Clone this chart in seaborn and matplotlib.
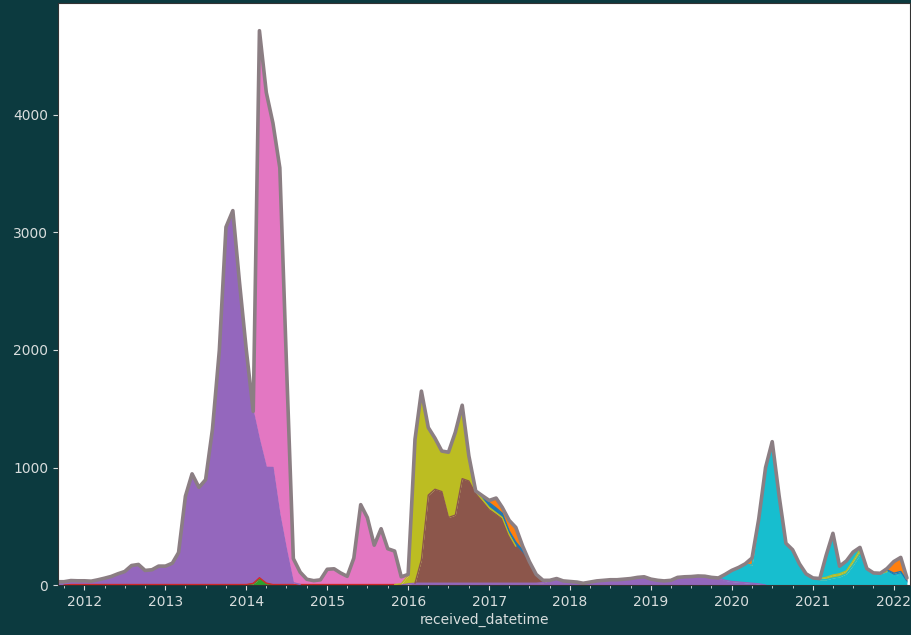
import matplotlib
matplotlib.use("Agg")
import matplotlib.pyplot as plt
import matplotlib.dates as mdates
import numpy as np
import pandas as pd
import seaborn as sns

# Monthly complaint counts by category, Sep 2011 - Mar 2022
months = pd.date_range("2011-09-01", "2022-03-01", freq="MS")

green_start = "2014-02"
green_vals = [10, 50, 12]

red_start = "2011-11"
red_vals = [4, 4, 4, 4, 4, 4, 4, 4, 4, 4, 4, 4, 4, 4, 4, 4, 4, 4, 4, 4,
            4, 4, 4, 4, 4, 4, 4, 4, 12, 4, 4, 4, 4, 4, 4, 4, 4, 4, 4, 4,
            4, 4, 4, 4, 4, 4, 4, 4, 4]

purple_a_start = "2011-09"
purple_a_vals = [28, 28, 34, 32, 32, 29, 40, 54, 69, 92,
                 111, 162, 171, 120, 126, 157, 157, 182, 272, 752,
                 942, 827, 892, 1322, 1992, 3042, 3182, 2572, 1992, 1464,
                 1175, 985, 996, 596, 296, 16]
purple_b_start = "2016-01"
purple_b_vals = [10, 15, 15, 15, 15, 15, 15, 15, 15, 15, 15,
                 15, 15, 15, 15, 15, 15, 15, 15, 15, 20,
                 40, 55, 35, 30, 25, 15, 25, 35, 40, 45,
                 45, 50, 55, 65, 70, 50, 40, 35, 40, 65,
                 70, 72, 77, 75, 65, 60, 40, 30, 25, 20, 15, 10]

brown_start = "2016-03"
brown_vals = [200, 750, 800, 780, 560, 580, 890, 870, 760, 695,
              625, 585, 545, 405, 315, 255, 170, 75, 20]

cyan_low_start = "2019-12"
cyan_low_vals = [50, 95, 125, 160, 155, 525, 1000, 1220, 760, 355,
                 300, 180, 95, 60, 45, 45, 60, 70, 95, 170,
                 260, 130, 98, 95, 115, 80, 95, 25]

olive_a_start = "2015-12"
olive_a_vals = [10, 70, 1225, 1435, 575, 435, 345, 555, 705, 625,
                215, 25, 20, 20, 15, 15, 10]
olive_b_start = "2021-02"
olive_b_vals = [10, 20, 25, 25, 25, 35, 40, 10, 5, 5]

cyan_high_start = "2021-03"
cyan_high_vals = [185, 355, 65, 85, 75, 20]

blue_a_start = "2016-12"
blue_a_vals = [30, 40, 40, 35, 30, 35, 25, 15]
blue_b_start = "2021-12"
blue_b_vals = [15, 20, 20, 10]

orange_a_start = "2017-01"
orange_a_vals = [20, 85, 50, 90, 125, 35]
orange_b_start = "2020-04"
orange_b_vals = [60, 25]
orange_c_start = "2021-12"
orange_c_vals = [10, 100, 120, 25]

pink_start = "2014-02"
pink_vals = [0, 3480, 3190, 2930, 2950, 1580, 205, 105, 45, 33,
             40, 130, 134, 100, 70, 225, 680, 570, 335, 475,
             305, 285, 60, 10]


def build(*segments):
    s = pd.Series(0.0, index=months)
    for start, vals in segments:
        idx = pd.date_range(start + "-01", periods=len(vals), freq="MS")
        s.loc[idx] = vals
    return s


pal = sns.color_palette("tab10")
layers = [
    ("green", build((green_start, green_vals)), pal[2]),
    ("red", build((red_start, red_vals)), pal[3]),
    ("purple", build((purple_a_start, purple_a_vals), (purple_b_start, purple_b_vals)), pal[4]),
    ("brown", build((brown_start, brown_vals)), pal[5]),
    ("cyan_low", build((cyan_low_start, cyan_low_vals)), pal[9]),
    ("olive", build((olive_a_start, olive_a_vals), (olive_b_start, olive_b_vals)), pal[8]),
    ("cyan_high", build((cyan_high_start, cyan_high_vals)), pal[9]),
    ("blue", build((blue_a_start, blue_a_vals), (blue_b_start, blue_b_vals)), pal[0]),
    ("orange", build((orange_a_start, orange_a_vals), (orange_b_start, orange_b_vals),
                     (orange_c_start, orange_c_vals)), pal[1]),
    ("pink", build((pink_start, pink_vals)), pal[6]),
]
df = pd.DataFrame({name: s for name, s, _ in layers})
colors = [c for _, _, c in layers]

bg = "#0c3a3f"
sns.set_style("white")
fig = plt.figure(figsize=(9.12, 6.35), dpi=100, facecolor=bg)
ax = fig.add_axes([0.0636, 0.0787, 0.9345, 0.9166])
ax.set_facecolor("white")

ax.stackplot(df.index, *[df[c].values for c in df.columns], colors=colors, linewidth=0)

# boundary line of each layer, only where the layer is present
cum = df.cumsum(axis=1)
for col, c in zip(df.columns, colors):
    v = df[col].values
    present = (v > 0) | (np.roll(v, 1) > 0) | (np.roll(v, -1) > 0)
    y = np.where(present, cum[col].values, np.nan)
    ax.plot(df.index, y, color=c, lw=1.0)

total = df.sum(axis=1)
sns.lineplot(x=df.index, y=total.values, ax=ax, color="#8b7e83", lw=2.6)

ax.set_xlim(pd.Timestamp("2011-09-04"), pd.Timestamp("2022-03-16"))
ax.set_ylim(0, total.max() * 1.05)
ax.set_yticks([0, 1000, 2000, 3000, 4000])

ax.xaxis.set_major_locator(mdates.YearLocator())
ax.xaxis.set_major_formatter(mdates.DateFormatter("%Y"))
ax.xaxis.set_minor_locator(mdates.MonthLocator(bymonth=[4, 7, 10]))

label_col = "#d8dddd"
ax.tick_params(axis="both", which="major", colors=label_col, labelcolor=label_col,
               labelsize=10, length=3.5, width=0.8, direction="out",
               bottom=True, left=True)
ax.tick_params(axis="x", which="minor", colors=label_col, length=2, width=0.6, bottom=True)
ax.set_xlabel("received_datetime", color=label_col, fontsize=10, labelpad=3)
ax.set_ylabel("")
for sp in ax.spines.values():
    sp.set_color("#333333")
    sp.set_linewidth(0.8)

fig.savefig("out.png", dpi=100, facecolor=bg)
